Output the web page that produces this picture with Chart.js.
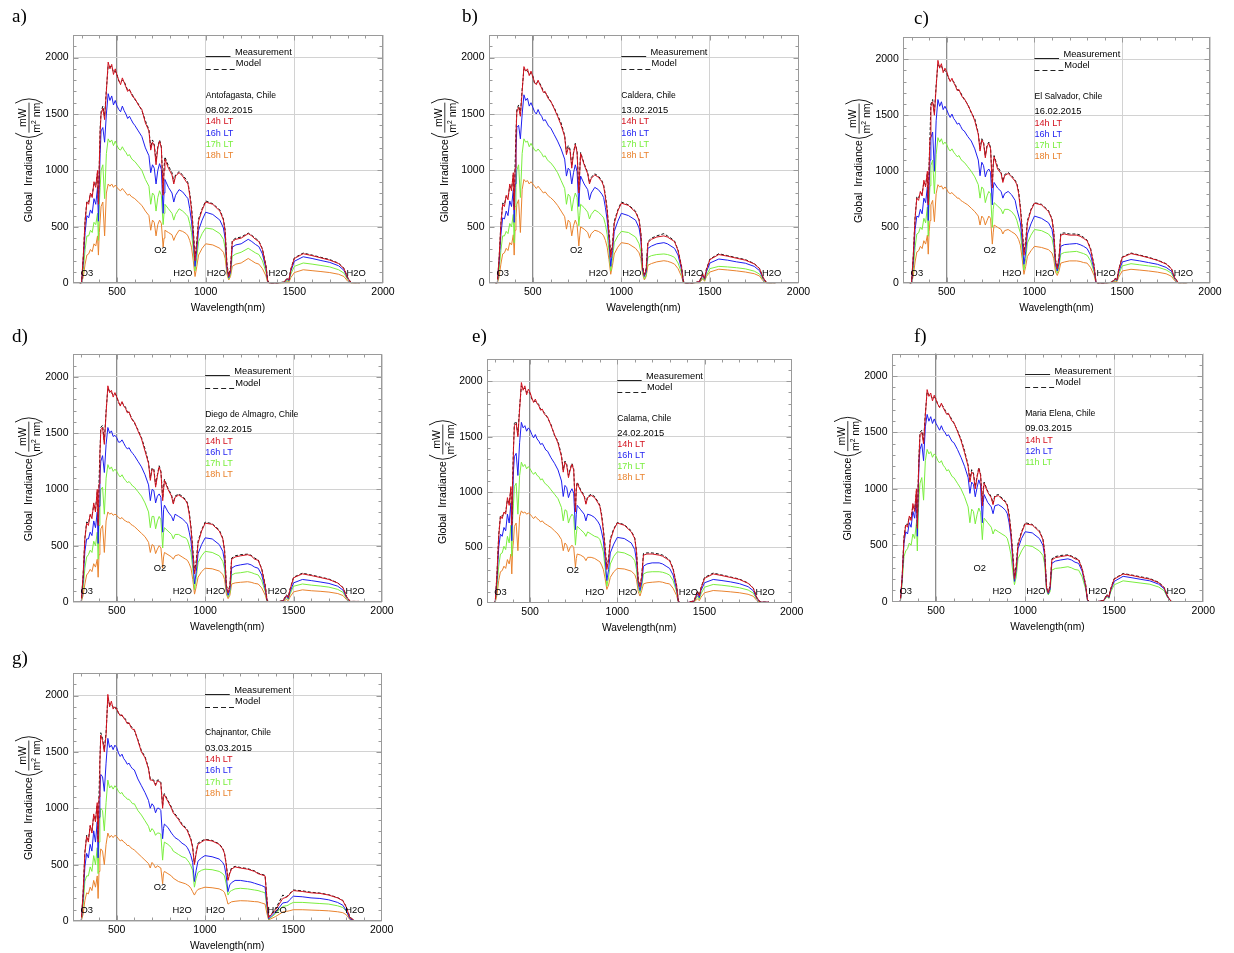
<!DOCTYPE html>
<html><head><meta charset="utf-8">
<script src="https://cdn.jsdelivr.net/npm/chart.js@4.4.1/dist/chart.umd.min.js"></script>
<style>
body{margin:0;background:#fff;}
#wrap{position:relative;width:1234px;height:953px;overflow:hidden;background:#fff;}
#wrap canvas{position:absolute;}
.lab{position:absolute;font-family:"Liberation Serif","Times New Roman",serif;font-size:19px;line-height:19px;color:#000;white-space:nowrap;}
</style></head><body><div id="wrap"></div>
<script>
// ---------- shared wavelength grid (nm) ----------
const wavelengths = [
290,300,310,320,330,340,350,360,370,380,
390,395,400,405,410,420,430,440,450,460,
470,480,490,500,510,520,530,540,550,560,
570,580,590,600,620,640,660,680,690,700,
710,720,730,740,750,760,765,770,790,810,
820,830,850,870,890,900,910,920,930,940,
950,960,980,1000,1040,1080,1100,1110,1120,1130,
1140,1150,1170,1200,1240,1260,1280,1300,1320,1340,
1350,1360,1400,1440,1460,1470,1480,1500,1550,1600,
1650,1700,1750,1780,1800,1820,1850,1870];

const xTicks = [500,1000,1500,2000];
const yTicks = [0,500,1000,1500,2000];

// ---------- a) Antofagasta ----------
const a14 = [0,5,250,550,720,700,800,760,900,850,
1000,700,1050,1350,1500,1550,1450,1700,1960,1900,
1940,1850,1900,1840,1800,1760,1820,1780,1740,1700,
1720,1680,1650,1640,1580,1540,1420,1350,1180,1250,
1220,1050,1200,1260,1200,780,1000,1100,1020,960,
880,950,980,950,900,880,780,650,450,200,
350,550,650,720,700,640,560,450,150,60,
120,370,390,400,440,420,390,370,300,150,
20,0,0,10,40,30,120,220,262,245,
225,205,175,130,50,5,5,5];
const a16 = [0,4,200,450,600,580,650,620,750,700,
850,550,900,1150,1350,1380,1250,1500,1680,1620,
1660,1580,1620,1570,1540,1520,1570,1530,1500,1460,
1480,1450,1420,1400,1350,1300,1200,1130,980,1050,
1020,880,1000,1060,1010,620,800,920,850,800,
720,780,830,810,770,750,660,550,380,150,
300,470,560,630,610,560,490,390,130,50,
100,320,340,350,390,370,345,325,260,130,
15,0,0,8,35,25,105,195,235,220,
202,185,155,115,45,5,4,4];
const a17 = [0,3,120,300,420,420,470,450,540,520,
620,380,700,850,1000,1050,750,1150,1280,1250,
1270,1220,1260,1220,1190,1180,1210,1180,1160,1130,
1140,1110,1090,1080,1040,1000,920,860,700,800,
780,640,760,820,780,520,620,700,660,620,
560,610,660,640,610,590,530,450,300,110,
230,370,440,490,480,440,390,310,110,40,
80,240,260,275,310,290,270,255,200,100,
10,0,0,5,25,20,80,150,180,170,
158,145,120,90,35,3,3,3];
const a18 = [0,2,60,170,250,260,300,280,350,330,
420,250,450,560,680,720,420,800,880,860,
880,850,870,850,830,820,840,820,800,780,
790,770,760,750,720,690,640,600,470,560,
540,420,520,560,530,320,400,470,450,430,
380,420,470,460,440,420,380,320,200,60,
150,250,310,350,340,310,275,220,80,30,
60,150,170,180,220,200,180,170,130,65,
5,0,0,3,15,12,50,95,120,112,
104,95,80,60,20,2,2,2];
const aModel = [0,5,240,560,730,720,790,780,880,870,
980,720,1060,1380,1520,1570,1480,1720,1930,1920,
1920,1870,1880,1850,1790,1780,1800,1790,1750,1710,
1710,1690,1660,1630,1590,1530,1440,1360,1200,1270,
1230,1080,1210,1270,1210,800,1020,1120,1040,980,
900,960,990,960,920,890,800,680,480,230,
380,570,660,730,705,650,570,470,170,70,
140,380,400,410,445,425,400,375,305,160,
25,0,0,12,45,35,125,225,268,250,
230,210,178,133,55,6,5,5];

// ---------- b) Caldera ----------
const b14 = [0,5,230,520,700,680,780,740,880,820,
980,650,1020,1300,1520,1560,1480,1700,1920,1880,
1900,1840,1880,1830,1780,1760,1800,1760,1730,1690,
1700,1660,1630,1620,1550,1480,1400,1300,1140,1200,
1180,1020,1150,1230,1160,800,980,1150,1050,970,
880,930,960,940,900,860,760,640,440,230,
330,530,640,710,690,630,560,440,140,70,
120,360,390,410,420,410,390,370,290,140,
15,0,0,15,80,40,120,210,255,240,
222,205,172,130,50,5,5,5];
const b16 = [0,4,190,430,580,570,640,600,730,680,
830,540,880,1150,1380,1400,1280,1500,1670,1620,
1640,1570,1600,1560,1520,1500,1540,1500,1480,1440,
1450,1420,1390,1380,1320,1260,1190,1100,950,1020,
1000,880,980,1050,990,680,850,950,880,830,
740,800,850,830,790,760,670,560,380,150,
290,460,550,620,600,560,490,390,120,60,
100,310,330,350,360,350,330,310,250,120,
12,0,0,12,70,35,100,180,215,205,
190,178,150,112,42,4,4,4];
const b17 = [0,3,120,290,420,420,460,440,530,500,
610,360,680,850,1000,1050,760,1150,1280,1250,
1260,1210,1240,1210,1180,1170,1190,1170,1150,1120,
1130,1100,1080,1070,1030,980,910,840,700,790,
770,640,740,800,760,510,600,700,670,630,
570,610,650,630,600,580,520,430,290,110,
220,360,420,460,450,410,350,280,100,40,
70,230,245,255,260,255,245,230,180,90,
8,0,0,8,50,25,70,130,150,145,
138,128,108,82,32,3,3,3];
const b18 = [0,2,60,170,260,270,310,290,360,340,
430,250,470,580,700,740,450,830,920,900,
910,880,900,880,860,840,860,840,820,800,
810,790,770,760,730,690,640,590,480,560,
540,420,510,560,520,330,420,500,480,450,
400,440,470,460,440,420,380,320,210,80,
160,260,320,360,350,310,270,220,80,30,
60,160,175,190,200,195,185,170,130,60,
5,0,0,5,40,18,60,100,125,118,
110,100,85,65,22,2,2,2];
const bModel = [0,5,220,530,710,700,770,760,860,840,
960,670,1040,1320,1540,1580,1500,1720,1900,1890,
1880,1850,1860,1840,1770,1770,1790,1770,1740,1700,
1690,1670,1640,1610,1560,1490,1420,1310,1160,1220,
1190,1040,1160,1240,1170,820,1000,1160,1060,980,
890,940,970,950,910,870,780,660,470,250,
350,550,650,720,695,640,565,450,150,80,
130,370,400,420,440,420,400,375,295,150,
20,0,0,15,85,45,125,215,262,245,
227,210,175,132,52,5,5,5];

// ---------- c) El Salvador ----------
const c14 = [0,5,260,580,760,740,820,780,920,860,
1000,700,1050,1300,1580,1620,1500,1750,1990,1920,
1960,1880,1920,1890,1840,1800,1830,1790,1760,1720,
1730,1690,1660,1650,1590,1530,1450,1330,1180,1280,
1250,1120,1220,1250,1200,850,1050,1130,1020,980,
900,960,980,950,910,880,800,660,470,250,
350,540,650,715,700,640,570,450,200,130,
230,430,440,430,430,420,400,380,300,150,
15,0,0,10,40,30,120,230,265,248,
228,205,172,130,45,5,5,5];
const c16 = [0,4,200,480,600,590,660,620,760,720,
860,560,900,1100,1300,1350,1000,1450,1640,1580,
1620,1550,1580,1550,1510,1480,1510,1470,1450,1420,
1430,1400,1370,1360,1310,1270,1200,1100,960,1080,
1050,950,1000,1020,990,700,850,900,850,820,
760,800,820,790,740,660,600,540,380,170,
280,440,530,600,580,540,480,380,170,110,
180,330,345,350,355,345,330,310,250,120,
12,0,0,8,35,25,100,190,212,200,
185,170,142,108,38,4,4,4];
const c17 = [0,3,130,320,440,450,500,480,580,540,
680,420,720,870,1050,1100,800,1150,1300,1260,
1290,1240,1260,1240,1200,1180,1200,1170,1150,1130,
1140,1110,1090,1080,1040,1000,950,880,760,860,
840,720,780,820,800,500,660,720,690,660,
620,660,660,640,600,560,500,450,300,120,
220,360,430,480,470,440,400,320,140,90,
150,260,275,280,285,275,265,250,200,100,
10,0,0,6,28,20,80,155,175,165,
155,145,120,90,32,3,3,3];
const c18 = [0,2,70,190,280,290,330,310,380,350,
430,260,460,560,700,740,550,800,880,860,
870,840,860,840,810,800,810,790,780,760,
760,740,730,720,700,670,640,600,520,600,
580,520,560,600,580,350,450,520,500,480,
440,470,480,460,440,420,390,340,220,80,
150,240,290,330,320,300,270,220,100,70,
110,180,190,200,200,195,185,180,140,70,
6,0,0,4,18,14,55,110,125,118,
110,100,85,63,22,2,2,2];
const cModel = [0,5,250,590,770,760,810,800,900,880,
980,720,1070,1320,1600,1640,1520,1770,1960,1930,
1940,1900,1900,1880,1830,1810,1810,1800,1770,1730,
1720,1700,1670,1640,1600,1520,1470,1340,1200,1290,
1260,1140,1230,1260,1210,870,1060,1140,1040,990,
910,970,990,960,920,890,820,680,500,280,
380,560,660,720,705,650,575,460,210,140,
240,445,450,440,440,430,410,385,310,160,
20,0,0,12,45,35,125,235,270,252,
232,208,175,133,48,6,5,5];

// ---------- d) Diego de Almagro ----------
const d14 = [0,5,240,560,700,680,780,740,880,800,
1000,680,1050,1300,1530,1550,1400,1680,1920,1860,
1880,1820,1860,1820,1780,1740,1780,1740,1720,1680,
1690,1640,1610,1600,1520,1450,1340,1230,1080,1180,
1170,1020,1120,1200,1150,900,1000,1080,1000,940,
870,930,950,930,900,870,780,650,450,250,
340,520,630,700,690,630,560,450,140,80,
140,380,400,410,420,410,380,370,290,140,
15,0,0,10,60,40,110,215,250,235,
218,200,168,125,45,5,5,5];
const d16 = [0,4,190,450,560,560,620,590,720,660,
800,520,850,1100,1250,1300,1150,1400,1550,1500,
1520,1470,1480,1460,1420,1420,1440,1410,1380,1360,
1370,1340,1320,1300,1250,1200,1130,1040,900,1000,
990,880,940,960,930,620,820,860,800,760,
720,780,760,740,710,690,620,540,380,160,
270,430,510,570,560,510,450,360,120,60,
110,300,320,330,340,330,310,300,240,110,
12,0,0,8,50,30,90,170,200,190,
178,165,140,105,38,4,4,4];
const d17 = [0,3,120,300,400,420,460,440,540,500,
620,380,680,850,1000,1020,780,1100,1220,1180,
1200,1160,1180,1160,1130,1110,1130,1100,1080,1060,
1070,1050,1030,1020,980,940,880,800,660,760,
760,650,720,760,730,480,620,660,630,600,
560,600,600,580,570,550,500,440,300,110,
220,350,410,450,440,410,360,290,100,45,
80,240,255,260,270,262,250,240,190,90,
8,0,0,6,38,22,70,140,160,150,
142,132,112,85,30,3,3,3];
const d18 = [0,2,60,160,240,260,290,270,340,310,
380,220,420,520,650,680,440,720,800,780,
790,770,780,770,750,740,750,730,720,710,
710,690,680,670,640,610,580,530,440,510,
500,430,470,500,480,300,400,440,420,400,
380,410,420,400,380,370,340,300,200,70,
140,220,270,300,295,275,245,200,70,30,
60,160,170,175,180,175,165,160,125,60,
5,0,0,4,22,12,45,90,108,100,
95,88,75,57,20,2,2,2];
const dModel = [0,5,230,570,710,700,770,760,860,820,
980,700,1070,1320,1550,1570,1420,1700,1900,1870,
1860,1840,1850,1830,1770,1750,1770,1750,1730,1690,
1680,1650,1620,1590,1530,1460,1360,1240,1100,1190,
1180,1040,1130,1210,1160,920,1020,1090,1010,950,
880,940,960,940,910,880,800,670,480,270,
370,540,640,710,695,640,565,460,150,90,
150,390,410,420,425,415,390,375,295,150,
20,0,0,12,65,45,115,220,256,240,
222,204,170,128,48,6,5,5];

// ---------- e) Calama ----------
const e14 = [0,5,260,600,780,760,820,800,950,880,
1050,700,1100,1400,1600,1620,1500,1750,1990,1920,
1960,1880,1930,1900,1850,1810,1840,1800,1780,1740,
1750,1710,1690,1680,1600,1520,1440,1320,1180,1270,
1240,1130,1200,1250,1200,820,1020,1080,1010,960,
890,950,970,950,900,870,780,650,480,300,
380,560,660,720,700,640,580,460,200,140,
230,430,440,440,430,420,400,380,300,150,
15,0,0,15,100,60,130,220,260,245,
228,210,175,130,45,5,5,5];
const e16 = [0,4,200,500,620,600,680,650,800,720,
900,560,950,1200,1320,1350,1150,1450,1630,1580,
1600,1550,1580,1560,1520,1490,1520,1480,1460,1430,
1440,1410,1380,1370,1310,1260,1200,1100,960,1060,
1040,950,1000,1030,990,660,800,880,840,800,
740,800,790,770,730,700,640,560,400,200,
300,450,530,590,580,540,480,380,170,110,
180,330,350,360,360,350,330,310,250,120,
12,0,0,12,80,45,110,180,210,200,
188,172,145,108,38,4,4,4];
const e17 = [0,3,130,330,440,450,510,480,600,540,
700,420,750,900,1050,1080,800,1150,1270,1230,
1250,1210,1230,1210,1180,1160,1180,1150,1140,1110,
1120,1090,1070,1060,1020,980,940,860,740,840,
830,720,770,800,780,520,620,690,660,630,
600,640,620,600,590,570,520,460,320,150,
230,350,420,460,450,420,380,300,140,90,
150,260,275,280,280,275,265,250,200,100,
10,0,0,8,60,30,80,140,165,158,
148,135,115,86,30,3,3,3];
const e18 = [0,2,70,200,280,290,330,310,390,350,
440,260,480,560,690,720,470,780,830,810,
820,800,810,800,780,760,780,760,750,730,
740,720,710,700,680,650,620,570,470,540,
520,460,500,520,500,320,400,440,430,410,
380,410,410,400,380,370,340,300,220,120,
160,230,280,310,305,285,255,210,100,60,
110,170,180,185,190,185,175,170,130,65,
6,0,0,5,35,18,50,90,110,105,
98,90,76,58,20,2,2,2];
const eModel = [0,5,250,610,790,780,810,820,930,900,
1030,720,1120,1420,1620,1640,1520,1770,1960,1930,
1940,1900,1910,1890,1840,1820,1820,1810,1790,1750,
1740,1720,1700,1670,1610,1510,1460,1330,1200,1280,
1250,1150,1210,1260,1210,840,1040,1090,1020,970,
900,960,980,960,910,880,800,670,510,320,
400,580,670,725,705,650,585,470,210,150,
240,445,450,450,440,430,410,385,310,160,
20,0,0,18,105,65,135,228,268,250,
232,214,178,133,48,6,5,5];

// ---------- f) Maria Elena ----------
const f14 = [0,5,230,560,680,660,760,720,870,800,
1000,650,1050,1300,1480,1500,1400,1650,1880,1820,
1850,1780,1830,1790,1750,1720,1760,1720,1690,1660,
1670,1630,1600,1590,1510,1430,1320,1200,1060,1150,
1130,1000,1100,1180,1120,850,980,1050,970,920,
860,930,940,910,880,850,760,620,420,200,
300,500,610,690,680,620,550,430,130,80,
130,370,390,400,410,400,380,370,290,140,
15,0,0,10,60,40,110,200,245,232,
215,200,168,125,45,2,0,0];
const f12 = [0,5,210,520,620,600,700,660,800,740,
920,580,980,1250,1350,1400,1250,1550,1660,1600,
1640,1580,1620,1580,1550,1520,1560,1520,1500,1470,
1480,1450,1420,1410,1350,1280,1200,1100,960,1060,
1040,930,1010,1080,1030,700,880,950,880,840,
780,850,860,840,810,780,700,580,380,180,
280,470,560,620,610,560,500,400,120,70,
110,340,360,370,380,370,350,340,270,130,
12,0,0,8,55,35,100,180,225,212,
198,185,155,115,40,2,0,0];
const f11 = [0,4,170,400,450,470,520,500,600,560,
700,450,760,950,1050,1100,900,1250,1350,1310,
1330,1280,1310,1290,1250,1230,1250,1210,1190,1160,
1170,1140,1110,1100,1050,1000,930,840,700,820,
800,690,770,830,790,550,680,740,700,660,
600,640,620,600,580,560,500,420,280,150,
220,380,450,500,490,450,410,330,100,60,
90,280,295,300,310,300,285,280,220,110,
10,0,0,6,45,28,85,150,185,175,
165,155,130,98,35,2,0,0];
const fModel = [0,5,220,570,690,680,750,740,850,820,
980,670,1070,1320,1500,1520,1420,1670,1860,1830,
1830,1800,1810,1800,1740,1730,1750,1730,1700,1670,
1660,1640,1610,1580,1520,1440,1340,1210,1080,1170,
1140,1020,1110,1190,1130,870,1000,1060,980,930,
870,940,950,920,890,860,780,640,450,220,
330,520,620,700,685,630,555,440,140,90,
140,380,400,410,415,405,390,375,295,150,
20,0,0,12,65,45,115,205,250,236,
220,205,172,128,48,3,0,0];

// ---------- g) Chajnantor ----------
const g14 = [0,5,250,600,750,700,850,780,950,880,
1050,700,1100,1400,1650,1600,1500,1650,2010,1900,
1950,1880,1900,1880,1850,1820,1830,1800,1780,1750,
1760,1720,1700,1700,1600,1500,1450,1350,1250,1250,
1240,1200,1240,1240,1220,1000,1100,1120,1060,1000,
960,940,900,850,820,800,760,720,650,500,
600,680,700,720,710,680,640,600,500,360,
420,460,480,470,460,450,440,420,410,400,
200,30,100,200,210,220,240,270,262,250,
245,230,205,180,120,30,0,0];
const g16 = [0,4,200,480,600,560,680,620,800,700,
880,560,920,1150,1300,1280,1150,1400,1620,1540,
1560,1520,1560,1540,1490,1460,1480,1440,1420,1390,
1400,1370,1350,1340,1260,1200,1140,1070,1000,1040,
1020,960,1000,1000,980,730,820,860,830,780,
760,740,720,690,670,650,620,580,520,350,
450,530,560,580,570,550,520,490,400,260,
320,340,360,360,350,345,335,325,315,300,
150,20,80,160,165,170,190,220,215,205,
200,188,165,140,90,20,0,0];
const g17 = [0,3,130,350,400,400,480,440,580,500,
650,420,700,900,1000,980,800,1050,1250,1180,
1200,1170,1200,1180,1150,1130,1140,1110,1100,1080,
1080,1060,1040,1040,980,940,890,840,790,820,
800,760,780,780,770,540,640,700,680,650,
620,610,590,570,560,540,520,490,450,300,
380,430,450,460,455,440,420,400,330,230,
260,270,285,290,285,280,275,270,260,250,
120,15,65,130,135,140,150,165,165,160,
155,150,135,120,85,20,0,0];
const g18 = [0,2,60,180,250,240,300,270,360,300,
400,200,440,560,640,620,500,680,780,740,
760,740,760,750,730,710,720,700,690,670,
670,650,640,630,600,570,540,510,470,520,
500,470,490,480,470,330,420,440,420,400,
380,370,350,340,330,320,310,290,260,230,
260,280,290,300,295,285,270,255,210,150,
160,170,175,180,178,175,172,170,160,150,
70,10,40,80,85,88,92,100,100,97,
94,90,82,74,55,12,0,0];
const gModel = [0,5,240,610,760,720,840,800,930,900,
1030,720,1120,1420,1670,1620,1520,1670,1980,1920,
1920,1900,1880,1890,1840,1830,1820,1810,1790,1760,
1750,1730,1710,1690,1610,1510,1460,1360,1260,1260,
1250,1210,1250,1250,1230,1020,1110,1130,1070,1010,
970,950,910,860,830,810,770,730,660,510,
610,690,710,725,715,685,645,605,510,370,
430,470,485,475,465,455,445,425,415,405,
210,35,110,230,215,225,245,275,268,255,
248,233,208,183,125,35,0,0];

// ---------- annotations ----------
const absorptionText = ['O3','O2','H2O','H2O','H2O','H2O'];
const absorptionX = [330,745,871,1060,1408,1848];
const absorptionY = [90,295,90,90,90,90];

const RED='#d3121f', BLUE='#1e1ef0', GREEN='#7aee3e', ORANGE='#e9832e';
const FONT='"Liberation Sans", Arial, Helvetica, sans-serif';

const panels = [
 {label:'a)', lab:[12,6],  area:[72.7,35,383,283.3], site:'Antofagasta, Chile', date:'08.02.2015',
  times:['14h LT','16h LT','17h LT','18h LT'], series:[a14,a16,a17,a18], model:aModel},
 {label:'b)', lab:[462,6], area:[488.5,35,798.5,283.3], site:'Caldera, Chile', date:'13.02.2015',
  times:['14h LT','16h LT','17h LT','18h LT'], series:[b14,b16,b17,b18], model:bModel},
 {label:'c)', lab:[914,8], area:[902.8,36.8,1210,283.3], site:'El Salvador, Chile', date:'16.02.2015',
  times:['14h LT','16h LT','17h LT','18h LT'], series:[c14,c16,c17,c18], model:cModel},
 {label:'d)', lab:[12,326], area:[72.5,354.3,382,602], site:'Diego de Almagro, Chile', date:'22.02.2015',
  times:['14h LT','16h LT','17h LT','18h LT'], series:[d14,d16,d17,d18], model:dModel},
 {label:'e)', lab:[472,326], area:[486.5,359.3,791.7,602.7], site:'Calama, Chile', date:'24.02.2015',
  times:['14h LT','16h LT','17h LT','18h LT'], series:[e14,e16,e17,e18], model:eModel},
 {label:'f)', lab:[914,326], area:[891.5,353.5,1203.3,601.7], site:'Maria Elena, Chile', date:'09.03.2015',
  times:['14h LT','12h LT','11h LT'], series:[f14,f12,f11], model:fModel},
 {label:'g)', lab:[12,648], area:[72.5,673,381.7,921], site:'Chajnantor, Chile', date:'03.03.2015',
  times:['14h LT','16h LT','17h LT','18h LT'], series:[g14,g16,g17,g18], model:gModel}
];
const seriesColors = [RED,BLUE,GREEN,ORANGE];

const framePlugin = {
 id:'frame',
 afterDatasetsDraw(chart){
  const {ctx, chartArea:ca, scales:{x,y}} = chart;
  ctx.save();
  ctx.strokeStyle='#9a9a9a'; ctx.lineWidth=1;
  const L=Math.round(ca.left)+0.5, T=Math.round(ca.top)+0.5, R=Math.round(ca.right)-0.5, B=Math.round(ca.bottom)-0.5;
  ctx.strokeRect(L,T,R-L,B-T);
  ctx.beginPath();
  for(let v=300; v<2000; v+=100){
   const px=Math.round(x.getPixelForValue(v))+0.5, len=(v%500===0)?5:3;
   ctx.moveTo(px,B); ctx.lineTo(px,B-len); ctx.moveTo(px,T); ctx.lineTo(px,T+len);
  }
  for(let v=100; v<2200; v+=100){
   const py=Math.round(y.getPixelForValue(v))+0.5, len=(v%500===0)?5:3;
   ctx.moveTo(L,py); ctx.lineTo(L+len,py); ctx.moveTo(R,py); ctx.lineTo(R-len,py);
  }
  ctx.stroke();
  ctx.restore();
 }
};

const textPlugin = {
 id:'panelText',
 afterDatasetsDraw(chart, args, opts){
  const {ctx, chartArea:ca, scales:{x,y}} = chart;
  ctx.save();
  ctx.textBaseline='middle';
  // legend samples
  ctx.strokeStyle='#222'; ctx.lineWidth=1;
  ctx.beginPath(); ctx.moveTo(x.getPixelForValue(1000), Math.round(y.getPixelForValue(2015))+0.5);
  ctx.lineTo(x.getPixelForValue(1140), Math.round(y.getPixelForValue(2015))+0.5); ctx.stroke();
  ctx.setLineDash([5,3]);
  ctx.beginPath(); ctx.moveTo(x.getPixelForValue(1000), Math.round(y.getPixelForValue(1900))+0.5);
  ctx.lineTo(x.getPixelForValue(1165), Math.round(y.getPixelForValue(1900))+0.5); ctx.stroke();
  ctx.setLineDash([]);
  ctx.fillStyle='#000'; ctx.textAlign='left';
  ctx.font='9.3px '+FONT;
  ctx.fillText('Measurement', x.getPixelForValue(1165), y.getPixelForValue(2045));
  ctx.fillText('Model', x.getPixelForValue(1170), y.getPixelForValue(1945));
  ctx.font='8.6px '+FONT;
  ctx.fillText(opts.site, x.getPixelForValue(1000), y.getPixelForValue(1667));
  ctx.font='9.4px '+FONT;
  ctx.fillText(opts.date, x.getPixelForValue(1000), y.getPixelForValue(1534));
  ctx.font='9.1px '+FONT;
  opts.times.forEach((t,i)=>{
   ctx.fillStyle=seriesColors[i];
   ctx.fillText(t, x.getPixelForValue(1000), y.getPixelForValue(1430-99*i));
  });
  // absorption labels
  ctx.fillStyle='#000'; ctx.textAlign='center'; ctx.font='9.4px '+FONT;
  absorptionText.forEach((t,i)=>ctx.fillText(t, x.getPixelForValue(absorptionX[i]), y.getPixelForValue(absorptionY[i])));
  // x title
  ctx.font='10.2px '+FONT;
  ctx.fillText('Wavelength(nm)', (ca.left+ca.right)/2, ca.bottom+25);
  // y title
  const cx=ca.left-44, cy=(ca.top+ca.bottom)/2;
  ctx.translate(cx,cy); ctx.rotate(-Math.PI/2);
  ctx.textBaseline='alphabetic'; ctx.textAlign='left';
  ctx.font='10.5px '+FONT;
  ctx.fillText('Global  Irradiance', -63, 3.3);
  // fraction
  const fc=41.5;
  ctx.textAlign='center';
  ctx.fillText('mW', fc, -2.6);
  ctx.lineWidth=0.8; ctx.strokeStyle='#000';
  ctx.beginPath(); ctx.moveTo(fc-15,0.3); ctx.lineTo(fc+15,0.3); ctx.stroke();
  ctx.textAlign='left';
  const wm=ctx.measureText('m').width;
  ctx.font='6.8px '+FONT; const w2=ctx.measureText('2').width;
  ctx.font='10.5px '+FONT; const wn=ctx.measureText(' nm').width;
  const x0=fc-(wm+w2+wn)/2;
  ctx.fillText('m', x0, 11.3);
  ctx.font='6.8px '+FONT; ctx.fillText('2', x0+wm, 7.0);
  ctx.font='10.5px '+FONT; ctx.fillText(' nm', x0+wm+w2, 11.3);
  // parentheses
  ctx.lineWidth=0.9;
  ctx.beginPath(); ctx.moveTo(26,-13.5); ctx.quadraticCurveTo(17.5,0.3,26,14); ctx.stroke();
  ctx.beginPath(); ctx.moveTo(56,-13.5); ctx.quadraticCurveTo(64.5,0.3,56,14); ctx.stroke();
  ctx.restore();
 }
};

const wrap=document.getElementById('wrap');
panels.forEach(p=>{
 const [left,top,right,bottom]=p.area;
 const cl=Math.floor(left)-75, ct=Math.floor(top)-25;
 const cw=Math.ceil(right)+22-cl, ch=Math.ceil(bottom)+42-ct;
 const cv=document.createElement('canvas');
 cv.width=cw; cv.height=ch;
 cv.style.left=cl+'px'; cv.style.top=ct+'px';
 cv.style.width=cw+'px'; cv.style.height=ch+'px';
 wrap.appendChild(cv);
 const lab=document.createElement('div');
 lab.className='lab'; lab.textContent=p.label;
 lab.style.left=p.lab[0]+'px'; lab.style.top=p.lab[1]+'px';
 wrap.appendChild(lab);

 const toPts=vals=>wavelengths.map((w,i)=>({x:w,y:vals[i]}));
 const ds=[];
 ds.push({data:toPts(p.series[0]),borderColor:RED,borderWidth:1});
 ds.push({data:toPts(p.model),borderColor:'#111',borderWidth:1,borderDash:[3,2]});
 for(let i=1;i<p.series.length;i++) ds.push({data:toPts(p.series[i]),borderColor:seriesColors[i],borderWidth:1});
 ds.forEach(d=>{d.pointRadius=0;d.tension=0;d.fill=false;});

 const xh=(ct+ch)-bottom, yw=left-cl;
 new Chart(cv,{
  type:'line',
  data:{datasets:ds},
  options:{
   responsive:false, animation:false, devicePixelRatio:1,
   layout:{padding:{top:top-ct, right:(cl+cw)-right, left:0, bottom:0}},
   plugins:{legend:{display:false}, tooltip:{enabled:false},
    panelText:{site:p.site, date:p.date, times:p.times}},
   scales:{
    x:{type:'linear', min:250, max:2000,
     afterBuildTicks:s=>{s.ticks=xTicks.map(v=>({value:v}));},
     afterFit:s=>{s.height=xh;},
     border:{display:false},
     grid:{drawTicks:false,
      color:c=>(c.tick&&c.tick.value===500)?'#8c8c8c':'#d2d2d2',
      lineWidth:c=>(c.tick&&c.tick.value===500)?1.3:1},
     ticks:{padding:3, maxRotation:0, autoSkip:false, color:'#000', font:{family:FONT,size:10.5},
      callback:v=>String(v)}},
    y:{type:'linear', min:0, max:2200,
     afterBuildTicks:s=>{s.ticks=yTicks.map(v=>({value:v}));},
     afterFit:s=>{s.width=yw;},
     border:{display:false},
     grid:{drawTicks:false, color:'#d2d2d2', lineWidth:1},
     ticks:{padding:4, color:'#000', font:{family:FONT,size:10.5},
      callback:v=>String(v)}}
   }
  },
  plugins:[framePlugin,textPlugin]
 });
});
</script></body></html>
